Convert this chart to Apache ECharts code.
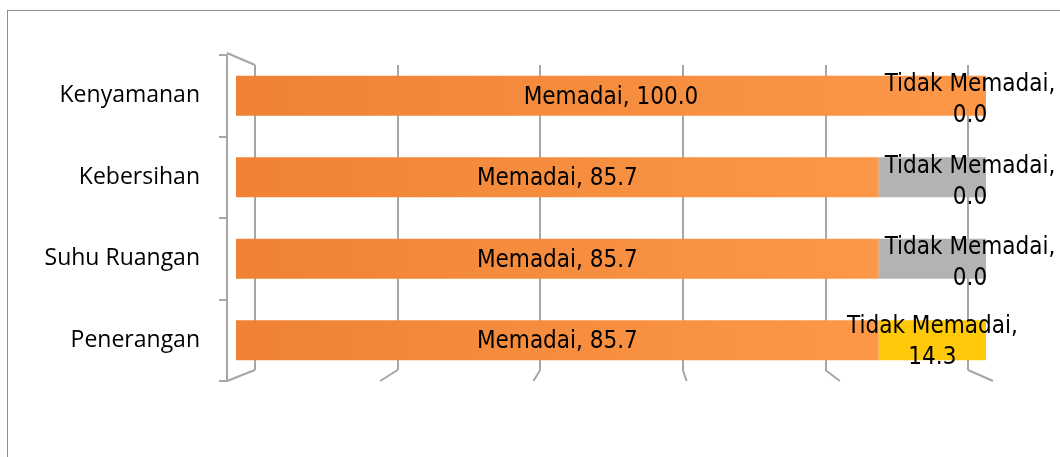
<!DOCTYPE html>
<html>
<head>
<meta charset="utf-8">
<script src="https://cdn.jsdelivr.net/npm/echarts@6/dist/echarts.min.js"></script>
<style>
  html, body { margin: 0; padding: 0; background: #fff; overflow: hidden; }
  #frame { position: absolute; left: 7px; top: 10px; width: 1200px; height: 600px; border: 1px solid #8c8c8c; }
  #chart { position: absolute; left: 0; top: 0; width: 1060px; height: 457px; }
</style>
</head>
<body>
<div id="frame"></div>
<div id="chart"></div>
<script>
// kategori dari bawah ke atas (urutan sumbu kategori ECharts)
var categories = ["Penerangan", "Suhu Ruangan", "Kebersihan", "Kenyamanan"];
var memadai = [85.7, 85.7, 85.7, 100.0];
var abu = [0, 14.3, 14.3, 0];
var tidakMemadai = [14.3, 0.0, 0.0, 0.0];
var xTicks = [0, 20, 40, 60, 80, 100];

var labelFont = "'Liberation Sans Narrow', 'DejaVu Sans Condensed', sans-serif";

var myChart = echarts.init(document.getElementById("chart"));

var tidakData = tidakMemadai.map(function(v) {
  // label untuk nilai nol digeser sedikit ke kiri agar tidak terpotong
  return v === 0 ? { value: v, label: { offset: [-16, 5] } } : v;
});

myChart.setOption({
  animation: false,
  grid: [
    { left: 236, right: 74, top: 55, bottom: 76 },
    { left: 255, right: 92, top: 65, bottom: 87 }
  ],
  xAxis: [
    { gridIndex: 0, type: "value", min: 0, max: 100, show: false },
    {
      gridIndex: 1, type: "value", min: xTicks[0], max: xTicks[xTicks.length - 1], interval: 20,
      axisLine: { show: false }, axisTick: { show: false }, axisLabel: { show: false },
      splitLine: { lineStyle: { color: "#a6a6a6", width: 2 } }
    }
  ],
  yAxis: [
    {
      gridIndex: 0, type: "category", data: categories, offset: 9,
      axisLine: { show: true, onZero: false, lineStyle: { color: "#a6a6a6", width: 2 } },
      axisTick: { show: true, inside: false, length: 8, alignWithLabel: false, lineStyle: { color: "#a6a6a6", width: 2 } },
      axisLabel: { color: "#000", fontSize: 23, margin: 27, fontFamily: "'Open Sans', sans-serif" }
    },
    { gridIndex: 1, type: "category", data: categories, show: false }
  ],
  series: [
    {
      name: "Memadai",
      type: "bar",
      stack: "total",
      barWidth: "49%",
      data: memadai,
      itemStyle: {
        color: new echarts.graphic.LinearGradient(0, 0, 1, 0, [
          { offset: 0, color: "#ef8234" },
          { offset: 1, color: "#fd9848" }
        ])
      },
      label: {
        show: true, position: "inside", color: "#000", fontSize: 24, fontFamily: labelFont,
        offset: [0, 2],
        formatter: function(p) { return p.seriesName + ", " + p.value.toFixed(1); }
      }
    },
    {
      name: "Lainnya",
      type: "bar",
      stack: "total",
      data: abu,
      itemStyle: { color: "#b3b3b3" }
    },
    {
      name: "Tidak Memadai",
      type: "bar",
      stack: "total",
      data: tidakData,
      itemStyle: { color: "#ffc90a" },
      label: {
        show: true, position: "inside", color: "#000", fontSize: 24, lineHeight: 31,
        fontFamily: labelFont, align: "center", offset: [0, 2],
        formatter: function(p) { return p.seriesName + ",\n" + p.value.toFixed(1); }
      }
    }
  ]
});

// garis bingkai 3D (dinding kiri dan lantai)
var backTop = 65, backBottom = 370, frontTop = 53, frontBottom = 381;
var frontLeft = 227, frontRight = 993;
var lines = [];
xTicks.forEach(function(t, i) {
  var bx = myChart.convertToPixel({ xAxisIndex: 1 }, t);
  var fx = frontLeft + (frontRight - frontLeft) * i / (xTicks.length - 1);
  lines.push({ type: "line", shape: { x1: bx, y1: backBottom, x2: fx, y2: frontBottom }, style: { stroke: "#a6a6a6", lineWidth: 2 }, z: -1 });
});
var bx0 = myChart.convertToPixel({ xAxisIndex: 1 }, 0);
lines.push({ type: "line", shape: { x1: frontLeft, y1: frontTop, x2: bx0, y2: backTop }, style: { stroke: "#a6a6a6", lineWidth: 2 }, z: -1 });
myChart.setOption({ graphic: lines });
</script>
</body>
</html>
